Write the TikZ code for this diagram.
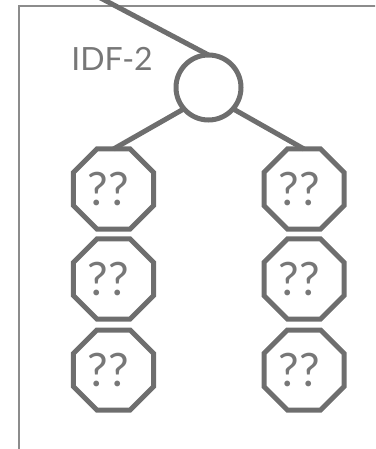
\documentclass[tikz,border=0pt]{standalone}
\usepackage{fontspec}
\setmainfont{Lato}
\usetikzlibrary{shapes.geometric}
\definecolor{strk}{HTML}{6E6E6E}
\definecolor{txt}{HTML}{777777}
\definecolor{frm}{HTML}{8C8C8C}
\begin{document}
\begin{tikzpicture}[x=1pt,y=-1pt,
  link/.style={draw=strk,line width=5pt},
  hub/.style={circle,draw=strk,line width=5pt,minimum size=65pt,inner sep=0pt,outer sep=0pt},
  oct/.style={regular polygon,regular polygon sides=8,draw=strk,line width=5pt,
    minimum size=86.6pt,inner sep=0pt,outer sep=0pt,text=txt,
    font=\fontsize{46}{52}\selectfont},
  frame/.style={draw=frm,line width=1.8pt},
  lbl/.style={text=txt,font=\fontsize{32}{38}\selectfont,inner sep=0pt}]
\useasboundingbox (0,0) rectangle (375,449);
\clip (0,0) rectangle (375,449);
\coordinate (fb) at (18.7,460);
\coordinate (fc) at (18.7,6.2);
\coordinate (fr) at (385,6.2);
\draw[frame] (fb) -- (fc) -- (fr);
\node[hub] (c) at (208.5,87.5) {};
\node[lbl,anchor=base] (name) at (112,71) {IDF-2};
\coordinate (src) at (93,-6);
\draw[link] (src) -- (c.north);
\node[oct] (l1) at (113.5,189) {??\kern10pt};
\node[oct] (l2) at (113.5,279) {??\kern10pt};
\node[oct] (l3) at (113.5,370) {??\kern10pt};
\node[oct] (r1) at (304,189) {??\kern10pt};
\node[oct] (r2) at (304,279) {??\kern10pt};
\node[oct] (r3) at (304,370) {??\kern10pt};
\draw[link] (c.221) -- (l1.north);
\draw[link] (c.319) -- (r1.north);
\end{tikzpicture}
\end{document}
